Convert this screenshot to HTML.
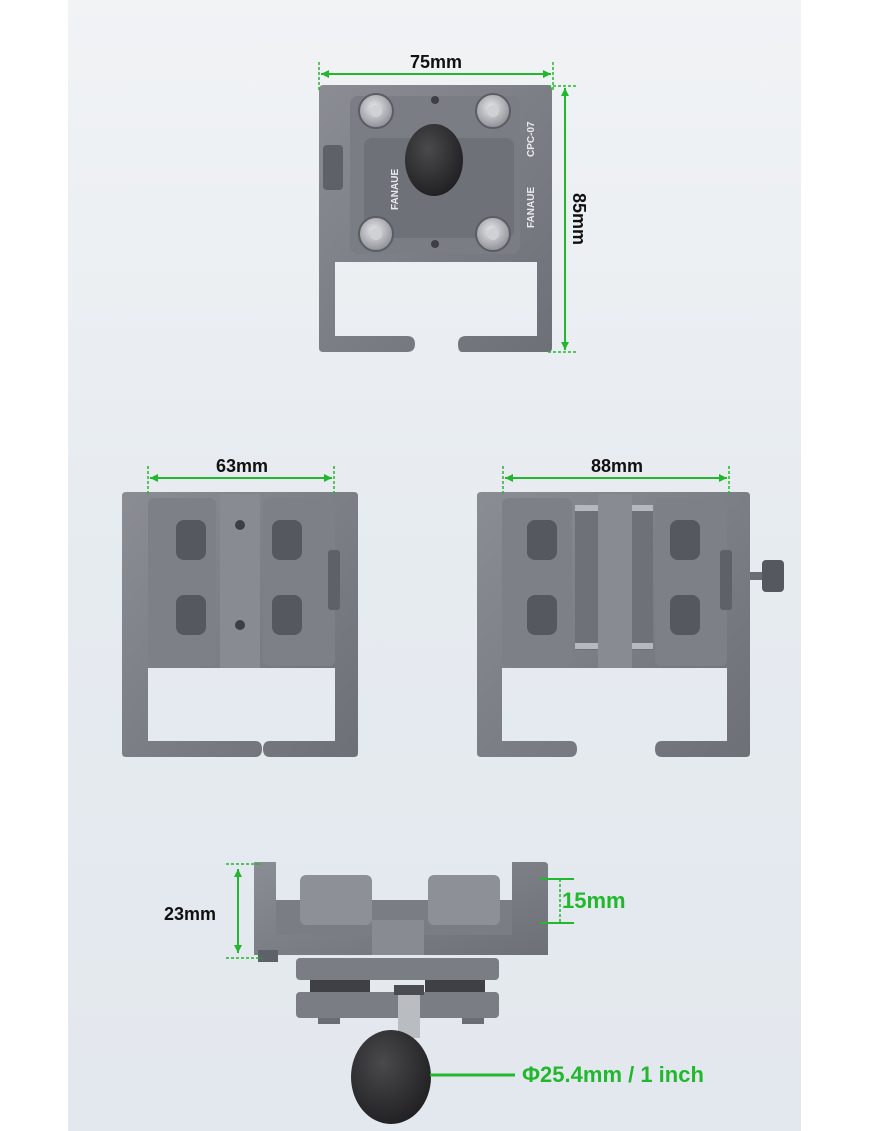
<!DOCTYPE html>
<html><head><meta charset="utf-8"><style>
html,body{margin:0;padding:0;background:#fff;}
svg{display:block;}
text{font-family:"Liberation Sans",sans-serif;font-weight:bold;}
</style></head><body>
<svg width="870" height="1131" viewBox="0 0 870 1131" xmlns="http://www.w3.org/2000/svg">
<defs>
<linearGradient id="bg" x1="0" y1="0" x2="0" y2="1">
<stop offset="0" stop-color="#f1f3f5"/><stop offset="0.5" stop-color="#e6ebf0"/><stop offset="1" stop-color="#e3e8ee"/>
</linearGradient>
<linearGradient id="metal" x1="0" y1="0" x2="1" y2="1">
<stop offset="0" stop-color="#8a8d93"/><stop offset="1" stop-color="#6d7077"/>
</linearGradient>
<radialGradient id="ball" cx="0.4" cy="0.35" r="0.7">
<stop offset="0" stop-color="#4a4a4c"/><stop offset="1" stop-color="#1f1f21"/>
</radialGradient>
<radialGradient id="screw" cx="0.45" cy="0.4" r="0.6">
<stop offset="0" stop-color="#e8e8ea"/><stop offset="1" stop-color="#8d9096"/>
</radialGradient>
</defs>
<rect x="68" y="0" width="733" height="1131" fill="url(#bg)"/>

<!-- TOP DEVICE -->
<path d="M323 85 H548 Q552 85 552 90 V348 Q552 352 548 352 H462 Q458 352 458 344 Q458 336 466 336 H537 V262 H335 V336 H407 Q415 336 415 344 Q415 352 407 352 H323 Q319 352 319 348 V90 Q319 85 323 85Z" fill="url(#metal)"/>
<rect x="350" y="96" width="170" height="158" rx="8" fill="#7a7d84"/>
<rect x="364" y="138" width="150" height="100" rx="8" fill="#6e7178"/>
<ellipse cx="434" cy="160" rx="29" ry="36" fill="url(#ball)"/>
<g fill="url(#screw)" stroke="#5a5d63" stroke-width="2">
<circle cx="376" cy="111" r="17"/><circle cx="493" cy="111" r="17"/>
<circle cx="376" cy="234" r="17"/><circle cx="493" cy="234" r="17"/>
</g>
<g fill="#cfd1d4"><circle cx="376" cy="111" r="6"/><circle cx="493" cy="111" r="6"/><circle cx="376" cy="234" r="6"/><circle cx="493" cy="234" r="6"/></g>
<circle cx="435" cy="100" r="4" fill="#3d3f44"/><circle cx="435" cy="244" r="4" fill="#3d3f44"/>
<rect x="323" y="145" width="20" height="45" rx="4" fill="#5e6167"/>
<text transform="translate(534,228) rotate(-90)" font-size="10" fill="#e8e9eb" font-weight="normal">FANAUE</text>
<text transform="translate(534,157) rotate(-90)" font-size="10" fill="#e8e9eb">CPC-07</text>
<text transform="translate(398,210) rotate(-90)" font-size="10" fill="#e8e9eb" font-weight="normal">FANAUE</text>

<g stroke="#22b82e" stroke-width="2" fill="none">
<line x1="321" y1="74" x2="551" y2="74"/>
<line x1="565" y1="88" x2="565" y2="350"/>
</g>
<g stroke="#22b82e" stroke-width="1.5" stroke-dasharray="3,2">
<line x1="319" y1="62" x2="319" y2="90"/><line x1="553" y1="62" x2="553" y2="90"/>
<line x1="548" y1="86" x2="578" y2="86"/><line x1="548" y1="352" x2="578" y2="352"/>
</g>
<g fill="#22b82e"><path d="M321 74 l8 -4 v8z"/><path d="M551 74 l-8 -4 v8z"/><path d="M565 88 l-4 8 h8z"/><path d="M565 350 l-4 -8 h8z"/></g>
<text x="436" y="68" font-size="18" text-anchor="middle" fill="#111">75mm</text>
<text transform="translate(573,219) rotate(90)" font-size="18" text-anchor="middle" fill="#111">85mm</text>

<!-- MIDDLE LEFT -->
<path d="M126 492 H354 Q358 492 358 496 V753 Q358 757 354 757 H270 Q263 757 263 749 Q263 741 270 741 H335 V668 H148 V741 H255 Q262 741 262 749 Q262 757 255 757 H126 Q122 757 122 753 V496 Q122 492 126 492Z" fill="url(#metal)"/>
<rect x="148" y="498" width="68" height="168" rx="6" fill="#7d8087"/>
<rect x="263" y="498" width="72" height="168" rx="6" fill="#7d8087"/>
<rect x="220" y="494" width="40" height="174" fill="#888b91"/>
<g fill="#55585e">
<rect x="176" y="520" width="30" height="40" rx="8"/><rect x="272" y="520" width="30" height="40" rx="8"/>
<rect x="176" y="595" width="30" height="40" rx="8"/><rect x="272" y="595" width="30" height="40" rx="8"/>
</g>
<circle cx="240" cy="525" r="5" fill="#3d3f44"/><circle cx="240" cy="625" r="5" fill="#3d3f44"/>
<rect x="328" y="550" width="12" height="60" rx="3" fill="#5e6167"/>

<!-- MIDDLE RIGHT -->
<path d="M481 492 H746 Q750 492 750 496 V753 Q750 757 746 757 H662 Q655 757 655 749 Q655 741 662 741 H727 V668 H502 V741 H570 Q577 741 577 749 Q577 757 570 757 H481 Q477 757 477 753 V496 Q477 492 481 492Z" fill="url(#metal)"/>
<rect x="502" y="498" width="70" height="168" rx="6" fill="#7d8087"/>
<rect x="655" y="498" width="72" height="168" rx="6" fill="#7d8087"/>
<rect x="575" y="510" width="78" height="140" fill="#6e7178"/>
<rect x="575" y="505" width="78" height="6" fill="#b5b8bc"/><rect x="575" y="643" width="78" height="6" fill="#b5b8bc"/>
<rect x="598" y="494" width="34" height="174" fill="#888b91"/>
<g fill="#55585e">
<rect x="527" y="520" width="30" height="40" rx="8"/><rect x="670" y="520" width="30" height="40" rx="8"/>
<rect x="527" y="595" width="30" height="40" rx="8"/><rect x="670" y="595" width="30" height="40" rx="8"/>
</g>
<rect x="720" y="550" width="12" height="60" rx="3" fill="#5e6167"/>
<rect x="750" y="572" width="12" height="8" fill="#6a6d73"/>
<rect x="762" y="560" width="22" height="32" rx="4" fill="#55585e"/>

<g stroke="#22b82e" stroke-width="2"><line x1="150" y1="478" x2="332" y2="478"/><line x1="505" y1="478" x2="727" y2="478"/></g>
<g stroke="#22b82e" stroke-width="1.5" stroke-dasharray="3,2">
<line x1="148" y1="466" x2="148" y2="495"/><line x1="334" y1="466" x2="334" y2="495"/>
<line x1="503" y1="466" x2="503" y2="495"/><line x1="729" y1="466" x2="729" y2="495"/>
</g>
<g fill="#22b82e"><path d="M150 478 l8 -4 v8z"/><path d="M332 478 l-8 -4 v8z"/><path d="M505 478 l8 -4 v8z"/><path d="M727 478 l-8 -4 v8z"/></g>
<text x="242" y="472" font-size="18" text-anchor="middle" fill="#111">63mm</text>
<text x="617" y="472" font-size="18" text-anchor="middle" fill="#111">88mm</text>

<!-- BOTTOM -->
<rect x="296" y="958" width="203" height="22" rx="4" fill="#7a7d84"/>
<rect x="296" y="992" width="203" height="26" rx="4" fill="#7a7d84"/>
<rect x="310" y="980" width="60" height="12" fill="#3e4045"/><rect x="425" y="980" width="60" height="12" fill="#3e4045"/>
<rect x="318" y="1018" width="22" height="6" fill="#6a6d73"/><rect x="462" y="1018" width="22" height="6" fill="#6a6d73"/>
<rect x="398" y="988" width="22" height="50" fill="#b9bcc0"/>
<rect x="394" y="985" width="30" height="10" fill="#4a4c51"/>
<ellipse cx="391" cy="1077" rx="40" ry="47" fill="url(#ball)"/>
<path d="M254 862 H276 V935 H512 V862 H544 Q548 862 548 866 V955 H254Z" fill="url(#metal)"/>
<rect x="276" y="900" width="236" height="35" fill="#7a7d84"/>
<rect x="300" y="875" width="72" height="50" rx="6" fill="#8d9096"/>
<rect x="428" y="875" width="72" height="50" rx="6" fill="#8d9096"/>
<rect x="372" y="920" width="52" height="35" fill="#888b91"/>
<rect x="258" y="950" width="20" height="12" fill="#5e6167"/>

<g stroke="#22b82e" stroke-width="2" fill="none">
<line x1="238" y1="869" x2="238" y2="953"/>
<line x1="540" y1="879" x2="574" y2="879"/><line x1="540" y1="923" x2="574" y2="923"/>
<line x1="430" y1="1075" x2="515" y2="1075" stroke-width="3"/>
</g>
<g stroke="#22b82e" stroke-width="1.5" stroke-dasharray="3,2">
<line x1="226" y1="864" x2="262" y2="864"/><line x1="226" y1="958" x2="262" y2="958"/>
<line x1="560" y1="879" x2="560" y2="923"/>
</g>
<g fill="#22b82e"><path d="M238 869 l-4 8 h8z"/><path d="M238 953 l-4 -8 h8z"/></g>
<text x="190" y="920" font-size="18" text-anchor="middle" fill="#111">23mm</text>
<text x="562" y="908" font-size="22" fill="#22b82e">15mm</text>
<text x="522" y="1082" font-size="22" fill="#22b82e">Φ25.4mm / 1 inch</text>
</svg>
</body></html>
